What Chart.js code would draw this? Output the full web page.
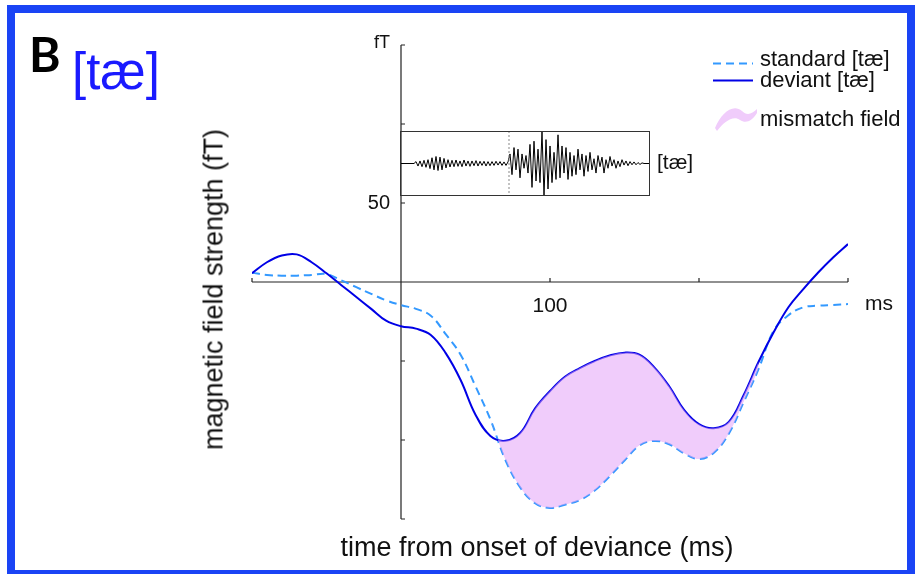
<!DOCTYPE html>
<html>
<head>
<meta charset="utf-8">
<script src="https://cdn.jsdelivr.net/npm/chart.js@4.4.1/dist/chart.umd.min.js"></script>
<style>
  body { margin: 0; background: #fff; }
  #wrap { position: relative; width: 915px; height: 574px; overflow: hidden; font-family: "Liberation Sans", Arial, sans-serif; color: #111; }
  #main { position: absolute; left: 0; top: 0; }
  #inset { position: absolute; left: 399px; top: 130px; }
  .txt { position: absolute; white-space: nowrap; line-height: 1; }
  #frame { position: absolute; left: 7px; top: 5px; width: 892px; height: 557px; border: 8px solid #1a44f5; pointer-events: none; }
</style>
</head>
<body>
<div id="wrap">
  <canvas id="main" width="915" height="574"></canvas>
  <canvas id="inset" width="253" height="68"></canvas>

  <div class="txt" style="left:29px; top:30px; font-family:Lato, sans-serif; font-weight:700; font-size:48px; color:#000;">B</div>
  <div class="txt" style="left:72px; top:46px; font-size:51px; color:#1a1aff;">[tæ]</div>
  <div class="txt" style="left:657px; top:151px; font-size:21px;">[tæ]</div>

  <div class="txt" style="left:14px; top:276px; width:400px; text-align:center; font-size:27px; transform:rotate(-90deg);">magnetic field strength (fT)</div>
  <div class="txt" style="left:237px; top:534px; width:600px; text-align:center; font-size:27px;">time from onset of deviance (ms)</div>

  <svg style="position:absolute; left:0; top:0;" width="915" height="574">
    <line x1="713" y1="63.5" x2="753" y2="63.5" stroke="#3399ff" stroke-width="2" stroke-dasharray="8,5"/>
    <line x1="713" y1="80.5" x2="753" y2="80.5" stroke="#0000e6" stroke-width="2"/>
    <path d="M715,128 C721,113 733,103 742,111 C747,116 752,114 757,109 L757,113 C752,121 746,124 740,120 C733,115 724,122 717,131 Z" fill="#f0ccfb"/>
  </svg>
  <div class="txt" style="left:760px; top:48px; font-size:22px;">standard [tæ]</div>
  <div class="txt" style="left:760px; top:69px; font-size:22px;">deviant [tæ]</div>
  <div class="txt" style="left:760px; top:108px; font-size:22px;">mismatch field</div>

  <div id="frame"></div>
</div>

<script>
// time axis of the averaged responses (ms from onset of deviance)
const timeMs = [-100, -90, -80, -70, -60, -50, -40, -30, -20, -10,
  0, 10, 20, 30, 40, 50, 60, 70, 80, 90,
  100, 110, 120, 130, 140, 150, 160, 170, 180, 190,
  200, 210, 220, 230, 240, 250, 260, 270, 280, 290, 300];

// field strength in fT
const deviant = [5.5, 12.5, 16.8, 17.5, 12.5, 5.5, -2, -9.5, -17, -24.5,
  -28, -29.5, -33.5, -45, -62, -84, -97.5, -100.5, -95.6, -80,
  -69, -60, -54.5, -50, -46.5, -44.7, -46, -54, -66, -81,
  -90, -92.5, -88.5, -71.5, -50.5, -32, -16, -4.5, 6, 15.5, 24];

const standard = [5.9, 4.5, 4, 4, 4.5, 5, 1, -3.3, -7.5, -11.6,
  -14.6, -17, -21.3, -33, -46, -66, -87, -112.5, -130, -140,
  -143, -141, -138, -132, -123, -113, -103.5, -100.6, -102.7, -108.5,
  -112, -108, -96, -76, -55, -31, -21, -16, -15, -14.5, -14];

// window where the mismatch field is shaded
const mismatchFrom = 60;
const mismatchTo = 240;

const yTicks = [150, 100, 50, -50, -100, -150];
const xTicks = [-100, 100, 200, 300];
const yTickLabels = ["50"];
const xTickLabels = ["100"];

// stimulus waveform of [tæ] (relative amplitude), 2 px per sample
const waveSamples = [0, 0, 0, 0, 0, 0, 0, 0,
  0.06, -0.08, 0.08, -0.1, 0.1, -0.12, 0.12,
  -0.16, 0.18, -0.2, 0.22, -0.22, 0.2, -0.2, 0.16, -0.14, 0.12,
  -0.11, 0.1, -0.1, 0.11, -0.09, 0.08, -0.1, 0.11, -0.08, 0.08,
  -0.09, 0.08, -0.07, 0.09, -0.08, 0.07, -0.06, 0.07, -0.08, 0.06,
  -0.07, 0.06, -0.06, 0.07, -0.05, 0.06, -0.06, 0.05, -0.06, 0.05,
  0.3, -0.35, 0.5, -0.2, 0.45, -0.45,
  0.3, -0.15, 0.25, -0.3,
  0.6, -0.75, 0.7, -0.55, 0.45, -0.6,
  1.0, -1.0, 0.75, -0.8, 0.55, -0.6, 0.35, -0.5,
  0.9, -0.45, 0.55, -0.3, 0.5, -0.5, 0.35, -0.4, 0.25, -0.35,
  0.45, -0.2, 0.3, -0.4, 0.25, -0.25, 0.35, -0.2, 0.15, -0.3,
  0.25, -0.1, 0.2, -0.3, 0.12, -0.15, 0.22, -0.08, 0.12, -0.15,
  0.08, -0.1, 0.12, -0.05, 0.08, -0.07, 0.06, -0.04, 0.05, -0.04,
  0.03, -0.03, 0.02, 0, 0, 0, 0];
const waveOnset = 54.5; // sample where the vowel starts (dotted line)

// build point lists
var devPts = [];
var stdPts = [];
var misPts = [];
for (let i = 0; i < timeMs.length; i++) {
  devPts.push({ x: timeMs[i], y: deviant[i] });
  stdPts.push({ x: timeMs[i], y: standard[i] });
  if (timeMs[i] >= mismatchFrom && timeMs[i] <= mismatchTo) {
    misPts.push({ x: timeMs[i], y: deviant[i] });
  }
}
var wavePts = waveSamples.map((v, i) => ({ x: i, y: v }));

// axes crossing at zero, ticks pointing inward
const axesPlugin = {
  id: "axes",
  beforeDatasetsDraw(chart) {
    const ctx = chart.ctx;
    const x = chart.scales.x;
    const y = chart.scales.y;
    const x0 = x.getPixelForValue(0);
    const y0 = y.getPixelForValue(0);
    ctx.save();
    ctx.strokeStyle = "#222";
    ctx.lineWidth = 1.2;
    ctx.beginPath();
    ctx.moveTo(x0, y.getPixelForValue(150));
    ctx.lineTo(x0, y.getPixelForValue(-150));
    ctx.moveTo(x.getPixelForValue(-100), y0);
    ctx.lineTo(x.getPixelForValue(300), y0);
    yTicks.forEach((v) => {
      const p = y.getPixelForValue(v);
      ctx.moveTo(x0, p);
      ctx.lineTo(x0 + 4, p);
    });
    xTicks.forEach((v) => {
      const p = x.getPixelForValue(v);
      ctx.moveTo(p, y0);
      ctx.lineTo(p, y0 - 4);
    });
    ctx.stroke();

    ctx.fillStyle = "#111";
    ctx.font = '20px "Liberation Sans", Arial, sans-serif';
    ctx.textAlign = "right";
    ctx.textBaseline = "alphabetic";
    yTickLabels.forEach((t) => {
      ctx.fillText(t, x0 - 11, y.getPixelForValue(Number(t)) + 6);
    });
    ctx.font = '18px "Liberation Sans", Arial, sans-serif';
    ctx.fillText("fT", x0 - 11, y.getPixelForValue(150) + 3);
    ctx.font = '21px "Liberation Sans", Arial, sans-serif';
    ctx.textAlign = "center";
    xTickLabels.forEach((t) => {
      ctx.fillText(t, x.getPixelForValue(Number(t)), y0 + 30);
    });
    ctx.textAlign = "left";
    ctx.fillText("ms", x.getPixelForValue(300) + 17, y0 + 28);
    ctx.restore();
  },
};

new Chart(document.getElementById("main"), {
  type: "line",
  data: {
    datasets: [
      {
        label: "deviant [tæ]",
        data: devPts,
        borderColor: "#0000e6",
        borderWidth: 2,
        pointRadius: 0,
        tension: 0.4,
        fill: false,
        order: 2,
      },
      {
        label: "standard [tæ]",
        data: stdPts,
        borderColor: "#3399ff",
        borderWidth: 2,
        borderDash: [8, 5],
        pointRadius: 0,
        tension: 0.4,
        fill: false,
        order: 2,
      },
      {
        label: "mismatch field",
        data: misPts,
        borderWidth: 0,
        borderColor: "rgba(0,0,0,0)",
        pointRadius: 0,
        tension: 0.4,
        fill: { target: 1, above: "rgba(228,162,248,0.55)", below: "rgba(0,0,0,0)" },
        order: 0,
      },
    ],
  },
  options: {
    responsive: false,
    animation: false,
    layout: { padding: { left: 252, right: 67, top: 45, bottom: 55 } },
    scales: {
      x: { type: "linear", min: -100, max: 300, display: false },
      y: { min: -150, max: 150, display: false },
    },
    plugins: { legend: { display: false }, tooltip: { enabled: false } },
  },
  plugins: [axesPlugin],
});

// box round the stimulus waveform and the dotted onset line
const boxPlugin = {
  id: "box",
  afterDatasetsDraw(chart) {
    const ctx = chart.ctx;
    const a = chart.chartArea;
    const xo = chart.scales.x.getPixelForValue(waveOnset);
    ctx.save();
    ctx.strokeStyle = "#888";
    ctx.lineWidth = 1;
    ctx.setLineDash([2, 2]);
    ctx.beginPath();
    ctx.moveTo(xo, a.top);
    ctx.lineTo(xo, a.bottom);
    ctx.stroke();
    ctx.setLineDash([]);
    ctx.strokeStyle = "#333";
    ctx.strokeRect(a.left + 0.5, a.top + 0.5, a.right - a.left - 1, a.bottom - a.top - 1);
    ctx.restore();
  },
};

new Chart(document.getElementById("inset"), {
  type: "line",
  data: {
    datasets: [
      {
        data: wavePts,
        borderColor: "#000",
        borderWidth: 1,
        pointRadius: 0,
        tension: 0,
        fill: false,
      },
    ],
  },
  options: {
    responsive: false,
    animation: false,
    layout: { padding: { left: 1, right: 2, top: 1, bottom: 2 } },
    scales: {
      x: { type: "linear", min: 0, max: waveSamples.length - 1, display: false },
      y: { min: -1.02, max: 1.02, display: false },
    },
    plugins: { legend: { display: false }, tooltip: { enabled: false } },
  },
  plugins: [boxPlugin],
});
</script>
</body>
</html>
